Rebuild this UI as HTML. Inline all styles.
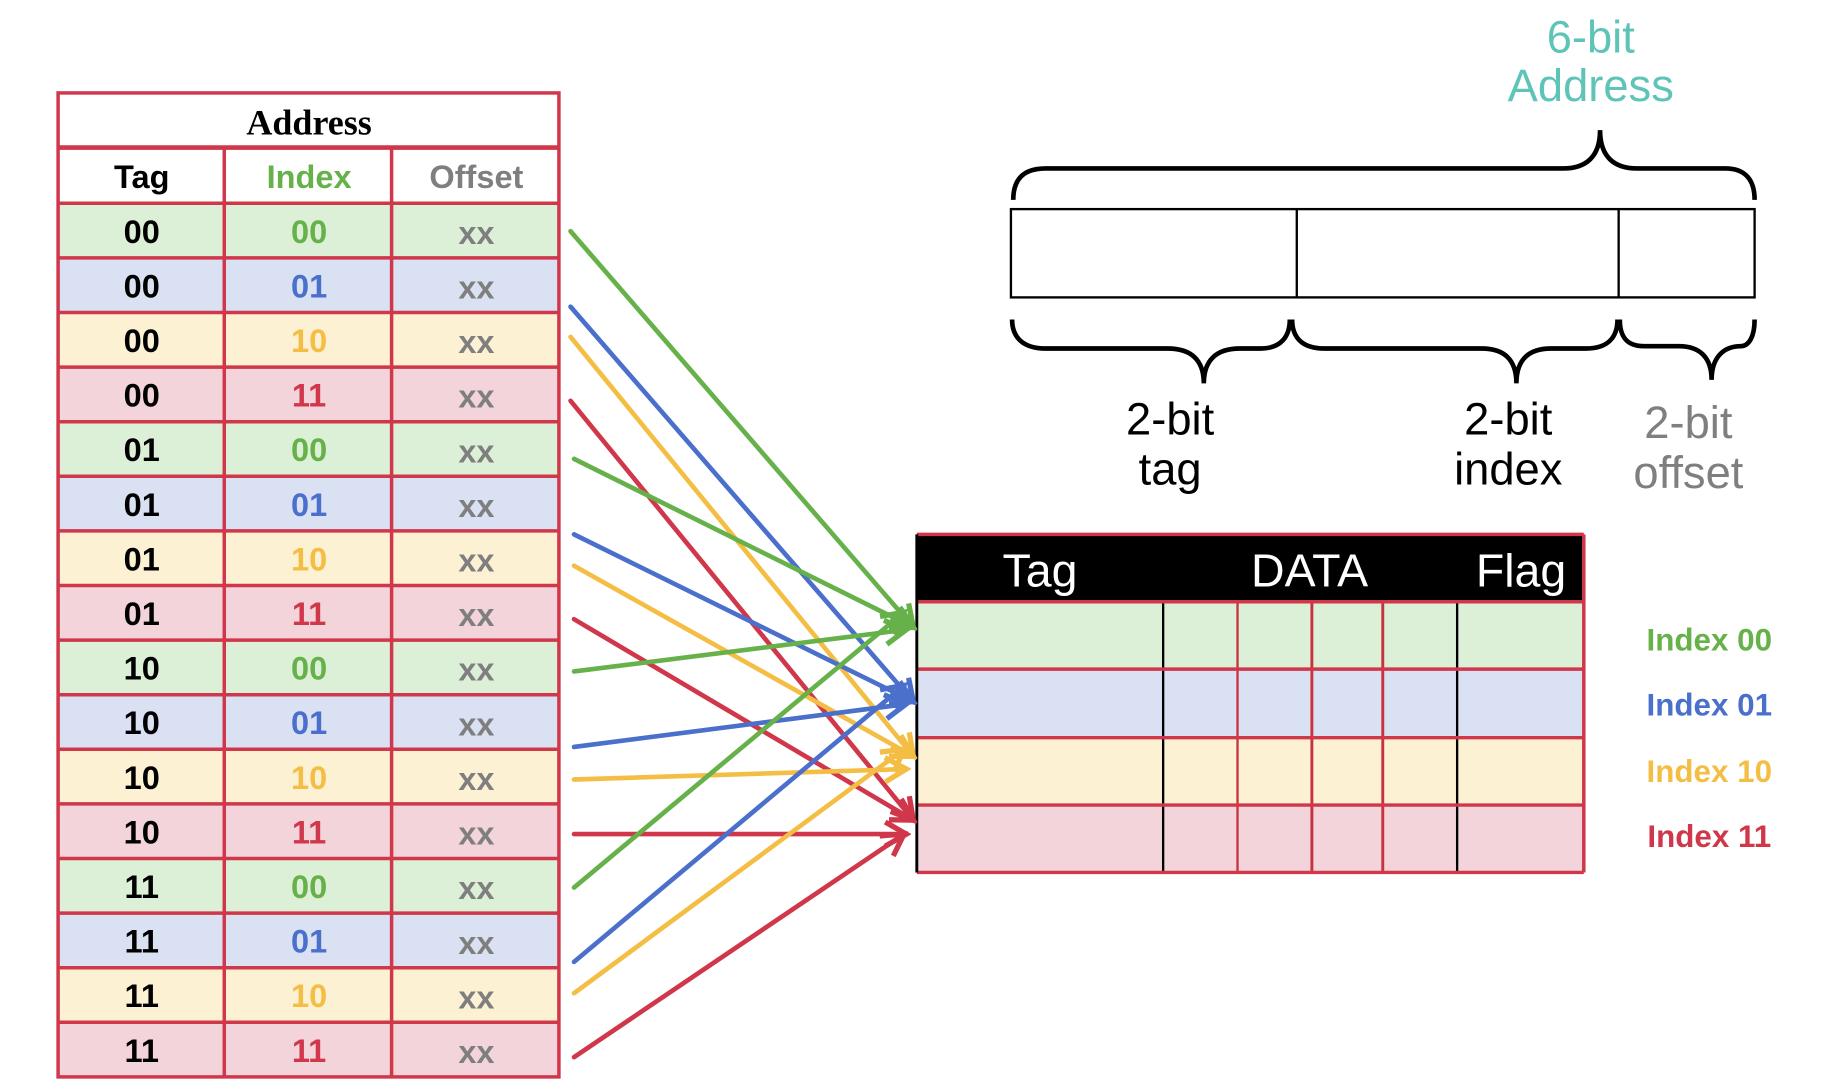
<!DOCTYPE html>
<html><head><meta charset="utf-8"><style>
html,body{margin:0;padding:0;background:#fff;}
svg{display:block;}
</style></head><body>
<svg width="1822" height="1092" viewBox="0 0 1568 940" preserveAspectRatio="none" xmlns="http://www.w3.org/2000/svg">
<defs>
<marker id="mg" viewBox="0 0 20 20" refX="17" refY="10" markerWidth="6.5" markerHeight="6.5" orient="auto" markerUnits="strokeWidth"><path d="M3,2 L17,10 L3,18" fill="none" stroke="#66b14a" stroke-width="3.5"/></marker>
<marker id="mb" viewBox="0 0 20 20" refX="17" refY="10" markerWidth="6.5" markerHeight="6.5" orient="auto" markerUnits="strokeWidth"><path d="M3,2 L17,10 L3,18" fill="none" stroke="#4a70cc" stroke-width="3.5"/></marker>
<marker id="my" viewBox="0 0 20 20" refX="17" refY="10" markerWidth="6.5" markerHeight="6.5" orient="auto" markerUnits="strokeWidth"><path d="M3,2 L17,10 L3,18" fill="none" stroke="#f4be44" stroke-width="3.5"/></marker>
<marker id="mr" viewBox="0 0 20 20" refX="17" refY="10" markerWidth="6.5" markerHeight="6.5" orient="auto" markerUnits="strokeWidth"><path d="M3,2 L17,10 L3,18" fill="none" stroke="#d0374b" stroke-width="3.5"/></marker>
</defs>

<!-- Left table -->
<g font-family="Liberation Sans, sans-serif" font-weight="bold" font-size="28" text-anchor="middle">
<rect x="50" y="80" width="431" height="47" fill="#fff"/>
<rect x="50" y="127" width="431" height="48" fill="#fff"/>
<rect x="50" y="175" width="431" height="47" fill="#dcf0d7"/>
<rect x="50" y="222" width="431" height="47" fill="#d9e1f3"/>
<rect x="50" y="269" width="431" height="47" fill="#fdf1d4"/>
<rect x="50" y="316" width="431" height="47" fill="#f2d4da"/>
<rect x="50" y="363" width="431" height="47" fill="#dcf0d7"/>
<rect x="50" y="410" width="431" height="47" fill="#d9e1f3"/>
<rect x="50" y="457" width="431" height="47" fill="#fdf1d4"/>
<rect x="50" y="504" width="431" height="47" fill="#f2d4da"/>
<rect x="50" y="551" width="431" height="47" fill="#dcf0d7"/>
<rect x="50" y="598" width="431" height="47" fill="#d9e1f3"/>
<rect x="50" y="645" width="431" height="47" fill="#fdf1d4"/>
<rect x="50" y="692" width="431" height="47" fill="#f2d4da"/>
<rect x="50" y="739" width="431" height="47" fill="#dcf0d7"/>
<rect x="50" y="786" width="431" height="47" fill="#d9e1f3"/>
<rect x="50" y="833" width="431" height="47" fill="#fdf1d4"/>
<rect x="50" y="880" width="431" height="47" fill="#f2d4da"/>
<g stroke="#d0374b" stroke-width="3" fill="none">
<rect x="50" y="80" width="431" height="847"/>
<line x1="50" y1="127" x2="481" y2="127" stroke-width="4"/>
<line x1="50" y1="175" x2="481" y2="175"/>
<line x1="50" y1="222" x2="481" y2="222"/><line x1="50" y1="269" x2="481" y2="269"/>
<line x1="50" y1="316" x2="481" y2="316"/><line x1="50" y1="363" x2="481" y2="363"/>
<line x1="50" y1="410" x2="481" y2="410"/><line x1="50" y1="457" x2="481" y2="457"/>
<line x1="50" y1="504" x2="481" y2="504"/><line x1="50" y1="551" x2="481" y2="551"/>
<line x1="50" y1="598" x2="481" y2="598"/><line x1="50" y1="645" x2="481" y2="645"/>
<line x1="50" y1="692" x2="481" y2="692"/><line x1="50" y1="739" x2="481" y2="739"/>
<line x1="50" y1="786" x2="481" y2="786"/><line x1="50" y1="833" x2="481" y2="833"/>
<line x1="50" y1="880" x2="481" y2="880"/>
<line x1="193" y1="127" x2="193" y2="927"/><line x1="337" y1="127" x2="337" y2="927"/>
</g>
<text x="266" y="116" font-family="Liberation Serif, serif" font-size="31" fill="#000">Address</text>
<text x="122" y="162" fill="#000">Tag</text>
<text x="266" y="162" fill="#66b14a">Index</text>
<text x="410" y="162" fill="#7f7f7f">Offset</text>
<g fill="#000">
<text x="122" y="209">00</text><text x="122" y="256">00</text><text x="122" y="303">00</text><text x="122" y="350">00</text>
<text x="122" y="397">01</text><text x="122" y="444">01</text><text x="122" y="491">01</text><text x="122" y="538">01</text>
<text x="122" y="585">10</text><text x="122" y="632">10</text><text x="122" y="679">10</text><text x="122" y="726">10</text>
<text x="122" y="773">11</text><text x="122" y="820">11</text><text x="122" y="867">11</text><text x="122" y="914">11</text>
</g>
<text x="266" y="209" fill="#66b14a">00</text><text x="266" y="256" fill="#4a70cc">01</text><text x="266" y="303" fill="#f4be44">10</text><text x="266" y="350" fill="#d0374b">11</text>
<text x="266" y="397" fill="#66b14a">00</text><text x="266" y="444" fill="#4a70cc">01</text><text x="266" y="491" fill="#f4be44">10</text><text x="266" y="538" fill="#d0374b">11</text>
<text x="266" y="585" fill="#66b14a">00</text><text x="266" y="632" fill="#4a70cc">01</text><text x="266" y="679" fill="#f4be44">10</text><text x="266" y="726" fill="#d0374b">11</text>
<text x="266" y="773" fill="#66b14a">00</text><text x="266" y="820" fill="#4a70cc">01</text><text x="266" y="867" fill="#f4be44">10</text><text x="266" y="914" fill="#d0374b">11</text>
<g fill="#7f7f7f">
<text x="410" y="210">xx</text><text x="410" y="257">xx</text><text x="410" y="304">xx</text><text x="410" y="351">xx</text>
<text x="410" y="398">xx</text><text x="410" y="445">xx</text><text x="410" y="492">xx</text><text x="410" y="539">xx</text>
<text x="410" y="586">xx</text><text x="410" y="633">xx</text><text x="410" y="680">xx</text><text x="410" y="727">xx</text>
<text x="410" y="774">xx</text><text x="410" y="821">xx</text><text x="410" y="868">xx</text><text x="410" y="915">xx</text>
</g>
</g>

<!-- Cache table -->
<rect x="789" y="460" width="574" height="58" fill="#000"/>
<rect x="789" y="518" width="574" height="58" fill="#dcf0d7"/>
<rect x="789" y="576" width="574" height="59" fill="#d9e1f3"/>
<rect x="789" y="635" width="574" height="58" fill="#fdf1d4"/>
<rect x="789" y="693" width="574" height="58" fill="#f2d4da"/>
<g stroke-width="2">
<line x1="1001" y1="460" x2="1001" y2="751" stroke="#000"/>
<line x1="1254" y1="460" x2="1254" y2="751" stroke="#000"/>
<line x1="1065" y1="518" x2="1065" y2="751" stroke="#c8323f"/>
<line x1="1129" y1="518" x2="1129" y2="751" stroke="#c8323f" stroke-width="2.5"/>
<line x1="1190" y1="518" x2="1190" y2="751" stroke="#c8323f" stroke-width="2.5"/>
</g>
<g stroke="#d0374b" stroke-width="3">
<line x1="789" y1="460" x2="1363" y2="460"/>
<line x1="789" y1="518" x2="1363" y2="518"/>
<line x1="789" y1="576" x2="1363" y2="576"/>
<line x1="789" y1="635" x2="1363" y2="635"/>
<line x1="789" y1="693" x2="1363" y2="693"/>
<line x1="789" y1="751" x2="1363" y2="751"/>
<line x1="1363" y1="460" x2="1363" y2="751"/>
</g>
<line x1="789" y1="460" x2="789" y2="751" stroke="#000" stroke-width="2.5"/>
<g font-family="Liberation Sans, sans-serif" font-size="40" fill="#fff" text-anchor="middle">
<text x="895" y="505">Tag</text><text x="1127" y="505">DATA</text><text x="1309" y="505">Flag</text>
</g>
<g font-family="Liberation Sans, sans-serif" font-weight="bold" font-size="27" text-anchor="middle">
<text x="1471" y="560" fill="#66b14a">Index 00</text>
<text x="1471" y="616" fill="#4a70cc">Index 01</text>
<text x="1471" y="673" fill="#f4be44">Index 10</text>
<text x="1471" y="729" fill="#d0374b">Index 11</text>
</g>

<!-- Address bit box -->
<rect x="870" y="180" width="640" height="76" fill="#fff" stroke="#000" stroke-width="2"/>
<line x1="1116" y1="180" x2="1116" y2="256" stroke="#000" stroke-width="2"/>
<line x1="1393" y1="180" x2="1393" y2="256" stroke="#000" stroke-width="2"/>
<g fill="none" stroke="#000" stroke-width="4">
<path d="M872,172 C872,155 880,145 900,145 L1345,145 C1365,145 1377,135 1377,112 C1377,135 1389,145 1409,145 L1485,145 C1502,145 1510,155 1510,172"/>
<path d="M871,275 C871,290 880,300 900,300 L1005,300 C1025,300 1036,310 1036,330 C1036,310 1047,300 1067,300 L1085,300 C1102,300 1110,290 1110,275"/>
<path d="M1112,275 C1112,290 1120,300 1140,300 L1275,300 C1295,300 1305,310 1305,330 C1305,310 1315,300 1335,300 L1365,300 C1384,300 1392,290 1392,275"/>
<path d="M1394,275 C1394,290 1400,298 1415,298 L1445,298 C1463,298 1473,308 1473,327 C1473,308 1483,298 1498,298 C1505,298 1510,290 1510,275"/>
</g>
<g font-family="Liberation Sans, sans-serif" font-size="39" text-anchor="middle">
<text x="1369" y="45" fill="#5fc4b8">6-bit</text>
<text x="1369" y="87" fill="#5fc4b8">Address</text>
<text x="1007" y="374" fill="#000">2-bit</text><text x="1007" y="417" fill="#000">tag</text>
<text x="1298" y="374" fill="#000">2-bit</text><text x="1298" y="417" fill="#000">index</text>
<text x="1453" y="377" fill="#7f7f7f">2-bit</text><text x="1453" y="420" fill="#7f7f7f">offset</text>
</g>

<!-- Arrows -->
<g fill="none" stroke-width="4" stroke-linecap="round">
<line x1="491" y1="199" x2="786" y2="540" stroke="#66b14a" marker-end="url(#mg)"/>
<line x1="491" y1="264" x2="786" y2="604" stroke="#4a70cc" marker-end="url(#mb)"/>
<line x1="491" y1="290" x2="786" y2="651" stroke="#f4be44" marker-end="url(#my)"/>
<line x1="491" y1="345" x2="786" y2="706" stroke="#d0374b" marker-end="url(#mr)"/>
<line x1="494" y1="395" x2="786" y2="540" stroke="#66b14a" marker-end="url(#mg)"/>
<line x1="494" y1="460" x2="786" y2="604" stroke="#4a70cc" marker-end="url(#mb)"/>
<line x1="494" y1="487" x2="786" y2="651" stroke="#f4be44" marker-end="url(#my)"/>
<line x1="494" y1="533" x2="786" y2="706" stroke="#d0374b" marker-end="url(#mr)"/>
<line x1="494" y1="578" x2="780" y2="542" stroke="#66b14a" marker-end="url(#mg)"/>
<line x1="494" y1="643" x2="780" y2="606" stroke="#4a70cc" marker-end="url(#mb)"/>
<line x1="494" y1="671" x2="780" y2="662" stroke="#f4be44" marker-end="url(#my)"/>
<line x1="494" y1="718" x2="780" y2="718" stroke="#d0374b" marker-end="url(#mr)"/>
<line x1="494" y1="764" x2="778" y2="527" stroke="#66b14a" marker-end="url(#mg)"/>
<line x1="494" y1="828" x2="778" y2="590" stroke="#4a70cc" marker-end="url(#mb)"/>
<line x1="494" y1="855" x2="778" y2="645" stroke="#f4be44" marker-end="url(#my)"/>
<line x1="494" y1="910" x2="778" y2="718" stroke="#d0374b" marker-end="url(#mr)"/>
</g>
</svg>
</body></html>
